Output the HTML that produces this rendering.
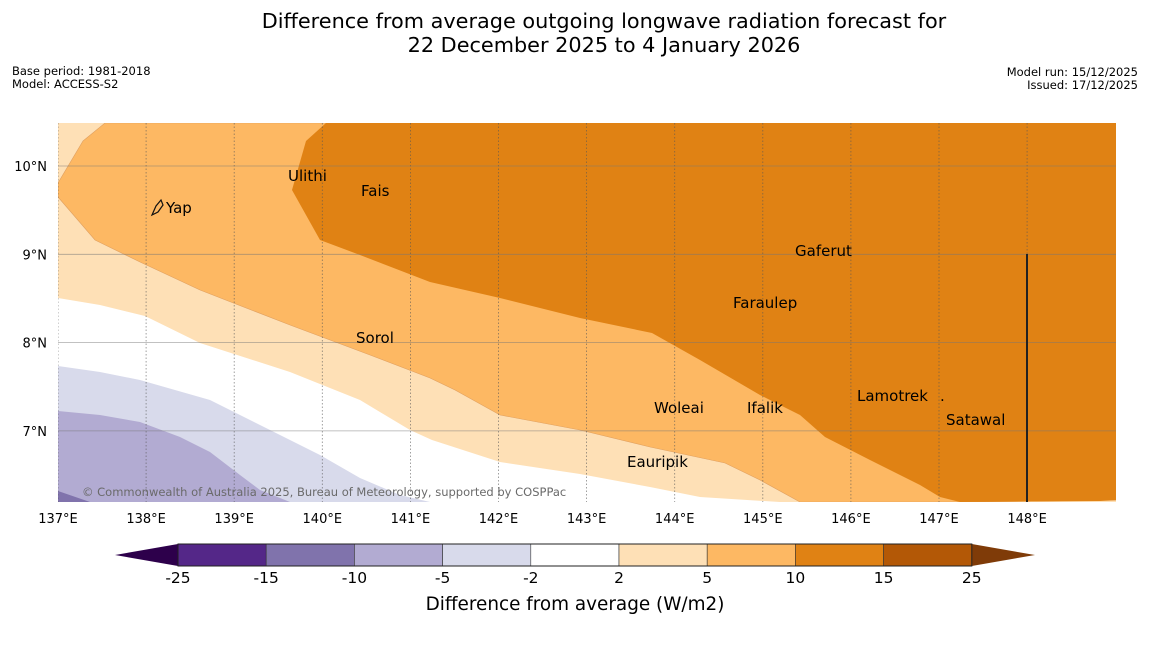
<!DOCTYPE html>
<html><head><meta charset="utf-8"><style>
body{margin:0;background:#fff;width:1150px;height:644px;overflow:hidden;font-family:"Liberation Sans","DejaVu Sans",sans-serif}
svg text{font-family:"DejaVu Sans","Liberation Sans",sans-serif}
</style></head><body>
<svg id="chart" width="1150" height="644" xmlns="http://www.w3.org/2000/svg">
<text x="604" y="28" font-size="20.8" text-anchor="middle">Difference from average outgoing longwave radiation forecast for</text>
<text x="604" y="52" font-size="20.8" text-anchor="middle">22 December 2025 to 4 January 2026</text>
<text x="12" y="75" font-size="11.5">Base period: 1981-2018</text>
<text x="12" y="88" font-size="11.5">Model: ACCESS-S2</text>
<text x="1138" y="76" font-size="11.5" text-anchor="end">Model run: 15/12/2025</text>
<text x="1138" y="89" font-size="11.5" text-anchor="end">Issued: 17/12/2025</text>
<defs><clipPath id="mapclip"><rect x="58" y="123" width="1058" height="379"/></clipPath></defs>
<g clip-path="url(#mapclip)">
<rect x="58" y="123" width="1058" height="379" fill="#fee0b6"/>
<polygon fill="#ffffff" points="58,298 100,305 145,316 200,343 290,372 360,400 410,430 432,440 500,462 580,474 650,487 700,497 780,502 780,510 50,510"/>
<polygon fill="#d8daeb" points="58,366 100,372 140,380 210,400 260,425 320,455 360,478 400,495 430,502 430,510 50,510"/>
<polygon fill="#b2abd2" points="58,411 100,415 140,422 180,437 210,452 240,475 260,490 290,502 290,510 50,510"/>
<polygon fill="#8073ac" points="58,491 90,502 50,510"/>
<polygon fill="#fdb863" stroke="#e0a060" stroke-width="0.6" points="105,123 1120,123 1120,500 1116,500 960,502 800,502 760,480 725,463 650,447 580,430 500,415 455,390 430,378 370,355 290,325 200,290 140,262 95,240 58,197 58,183 83,141"/>
<polygon fill="#e08214" points="326,123 1120,123 1120,500 1100,501 960,502 940,497 920,485 870,460 825,437 800,415 760,395 700,360 652,333 580,318 500,298 430,282 360,255 320,240 292,190 306,141"/>
<g id="grid"></g>
<line x1="1027" y1="254" x2="1027" y2="502" stroke="#222" stroke-width="2"/>
<g font-size="15">
<path d="M152,215 L156,206 L161,200 L163,205 L158,212 Z" fill="none" stroke="#111" stroke-width="1.2"/>
<text x="166" y="213">Yap</text>
<text x="288" y="181">Ulithi</text>
<text x="361" y="196">Fais</text>
<text x="795" y="256">Gaferut</text>
<text x="733" y="308">Faraulep</text>
<text x="356" y="343">Sorol</text>
<text x="857" y="401">Lamotrek</text>
<text x="940" y="401">.</text>
<text x="654" y="413">Woleai</text>
<text x="747" y="413">Ifalik</text>
<text x="946" y="425">Satawal</text>
<text x="627" y="467">Eauripik</text>
</g>
<text x="82" y="496" font-size="11.5" fill="#6a6a6a">© Commonwealth of Australia 2025, Bureau of Meteorology, supported by COSPPac</text>
</g>
<g id="axes" font-size="13"></g>
<g id="cbar"></g>
<text x="575" y="610" font-size="18.4" text-anchor="middle">Difference from average (W/m2)</text>
</svg>
<script>
const lonTicks=[137,138,139,140,141,142,143,144,145,146,147,148];
const latTicks=[10,9,8,7];
const cbarBounds=["-25","-15","-10","-5","-2","2","5","10","15","25"];
const cbarColors=["#542788","#8073ac","#b2abd2","#d8daeb","#ffffff","#fee0b6","#fdb863","#e08214","#b35806"];
const NS="http://www.w3.org/2000/svg";
const xLon=l=>58+(l-137)*88.1;
const yLat=l=>166+(10-l)*88.3;
function mk(t,a,p){const e=document.createElementNS(NS,t);for(const k in a)e.setAttribute(k,a[k]);p.appendChild(e);return e;}
const grid=document.getElementById('grid'),axes=document.getElementById('axes'),cb=document.getElementById('cbar');
lonTicks.forEach(l=>{
 const ln=mk('line',{x1:xLon(l),x2:xLon(l),y1:123,y2:502,stroke:'#555','stroke-width':0.8,'stroke-dasharray':'1.5,2','stroke-opacity':0.7},grid);
 
 
 const t=mk('text',{x:xLon(l),y:523,'text-anchor':'middle'},axes);t.textContent=l+'°E';
 
 
});
latTicks.forEach(l=>{
 const ln=mk('line',{x1:58,x2:1116,y1:yLat(l),y2:yLat(l),stroke:'#777','stroke-width':0.8,'stroke-opacity':0.6},grid);
 
 
 const t=mk('text',{x:47,y:yLat(l)+5,'text-anchor':'end'},axes);t.textContent=l+'°N';
 
 
});
const cx0=178,cw=88.2,cy=544,ch=22;
const lt=mk('polygon',{points:`${cx0},${cy} ${cx0},${cy+ch} 115,${cy+ch/2}`,fill:'#2d004b'},cb);


cbarColors.forEach((c,i)=>{
 const r=mk('rect',{x:cx0+i*cw,y:cy,width:cw,height:ch,fill:c,stroke:'#333','stroke-width':0.6},cb);
 
 
});
const re=cx0+cbarColors.length*cw;
const rt=mk('polygon',{points:`${re},${cy} ${re},${cy+ch} 1035,${cy+ch/2}`,fill:'#7f3b08'},cb);


mk('rect',{x:cx0,y:cy,width:re-cx0,height:ch,fill:'none',stroke:'#222','stroke-width':1},cb);
cbarBounds.forEach((b,i)=>{
 const t=mk('text',{x:cx0+i*cw,y:583,'text-anchor':'middle','font-size':15.5},cb);t.textContent=b;
 
 
});
</script>
</body></html>
